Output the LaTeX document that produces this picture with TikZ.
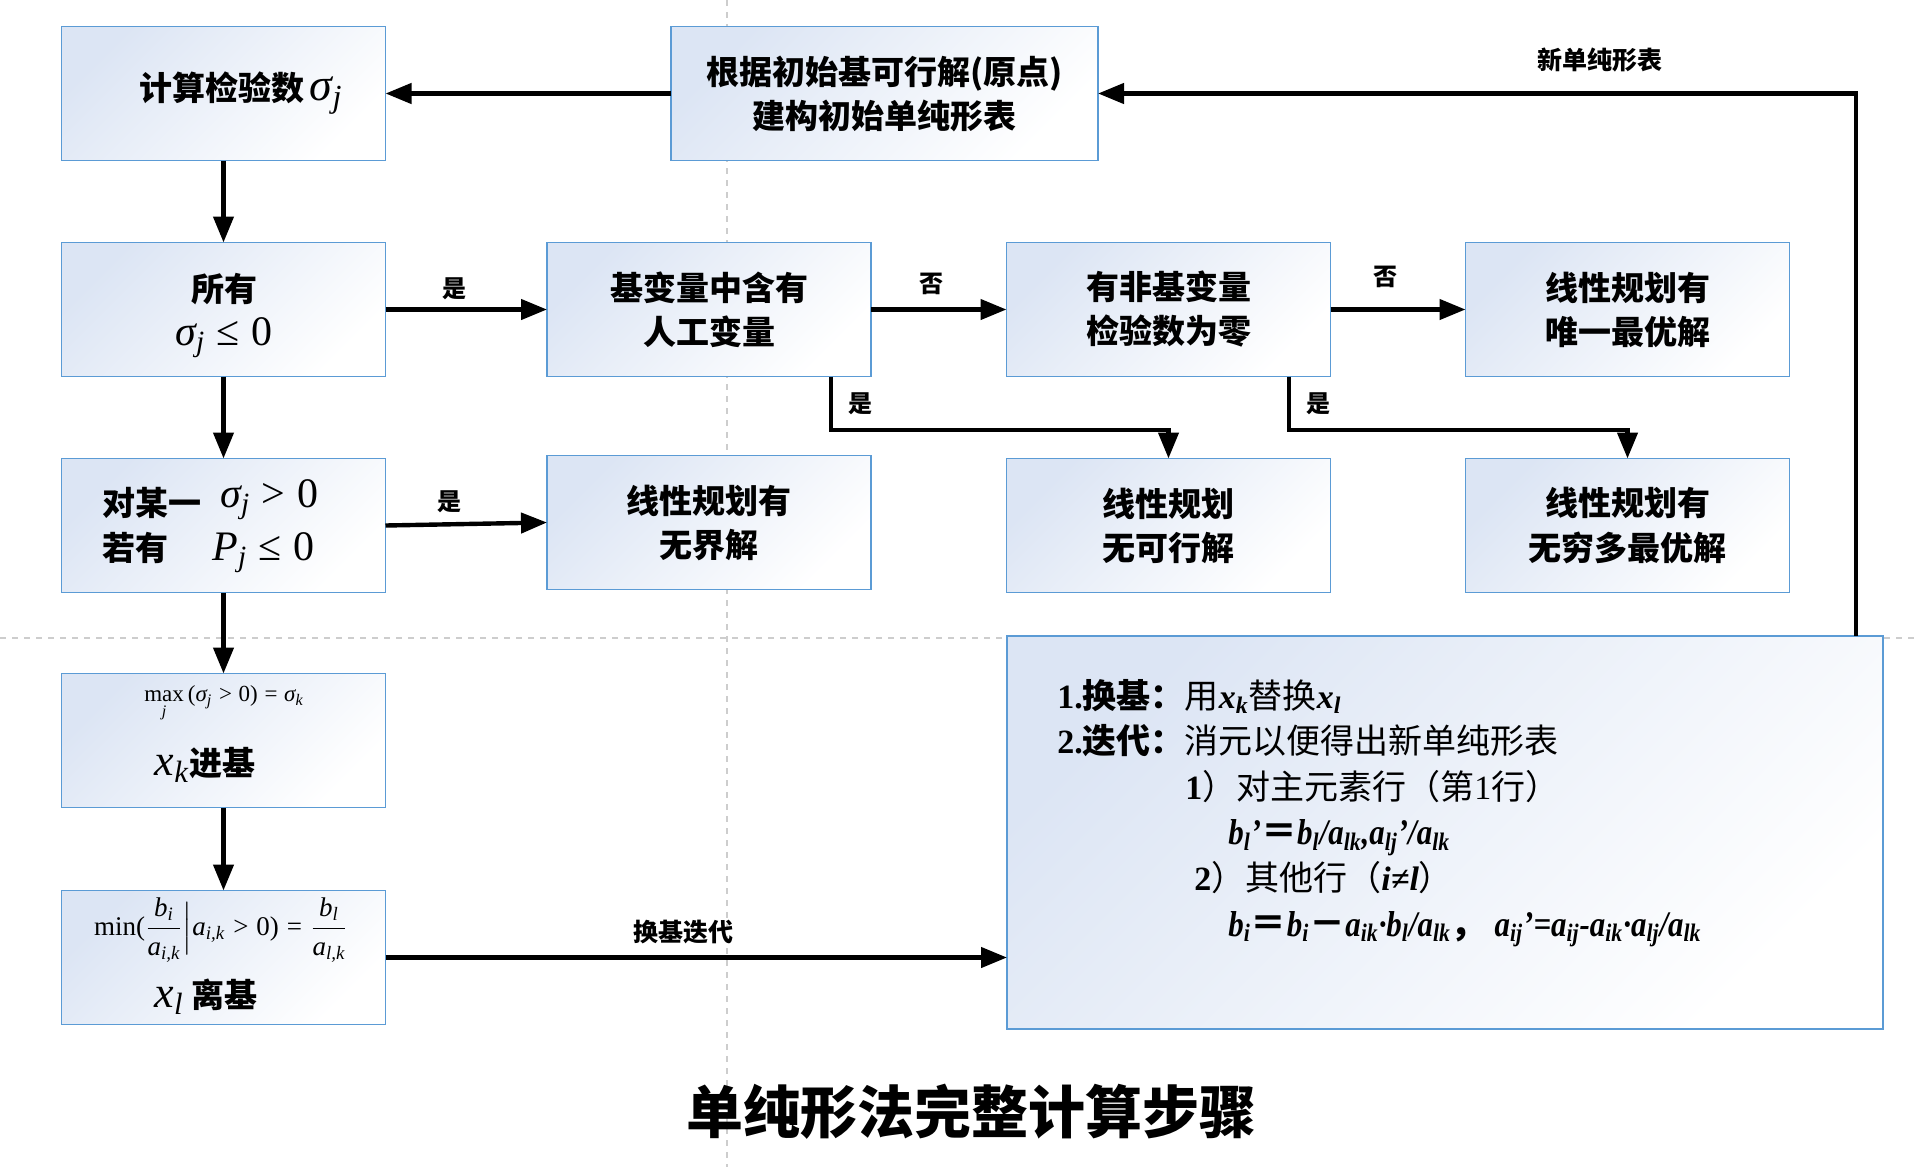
\documentclass[tikz,border=0pt]{standalone}
\usepackage{fontspec}
\usepackage{amsmath}
\setmainfont{Liberation Serif}
\newfontfamily\cjk{Noto Sans CJK SC}
\newfontfamily\cond{Liberation Serif}[FakeStretch=0.86]
\usetikzlibrary{arrows.meta}
\newcommand\ts[1]{\textsubscript{#1}}
\newcommand\mi[1]{\text{\normalfont\itshape #1}}
\newcommand\mr[1]{\text{\normalfont #1}}
\definecolor{boxedge}{RGB}{91,155,213}
\definecolor{boxtint}{RGB}{220,229,244}
\definecolor{guide}{RGB}{205,205,205}
\begin{document}
\begin{tikzpicture}[x=0.5pt,y=-0.5pt,
  box/.style={draw=boxedge, line width=0.8pt, top color=boxtint, bottom color=white, shading angle=45,
    inner sep=0pt, outer sep=0pt, minimum width=162pt, minimum height=67pt,
    font=\cjk\bfseries\fontsize{16.5}{22}\selectfont, align=center},
  txt/.style={inner sep=0pt, font=\cjk\bfseries\fontsize{16.5}{22}\selectfont},
  arr/.style={line width=2.2pt, -{Triangle[length=13pt,width=10pt]}},
  lbl/.style={inner sep=0pt, font=\cjk\bfseries\fontsize{12}{14}\selectfont}]
\fill[white] (0,0) rectangle (1920,1167);
\useasboundingbox (0,0) rectangle (1920,1167);
% guides
\draw[guide, dashed, line width=0.7pt] (727,0) -- (727,1167);
\draw[guide, dashed, line width=0.7pt] (0,638) -- (1920,638);
% boxes
\node[box] (b1) at (223.5,93.5) {};
\node[box, minimum width=213.5pt] (b2) at (884.5,93.5) {根据初始基可行解(原点)\\建构初始单纯形表};
\node[box] (b3) at (223.5,309.5) {};
\node[box] (b4) at (709,309.5) {基变量中含有\\人工变量};
\node[box] (b5) at (1168.5,309.5) {有非基变量\\检验数为零};
\node[box] (b6) at (1627.5,309.5) {线性规划有\\唯一最优解};
\node[box] (b7) at (223.5,525.5) {};
\node[box] (b8) at (709,522.5) {线性规划有\\无界解};
\node[box] (b9) at (1168.5,525.5) {线性规划\\无可行解};
\node[box] (b10) at (1627.5,525.5) {线性规划有\\无穷多最优解};
\node[box] (b11) at (223.5,740.5) {};
\node[box] (b12) at (223.5,957.5) {};
\node[box, minimum width=438pt, minimum height=196.5pt] (b13) at (1445,832.5) {};
% texts inside boxes
\node[txt, anchor=west] (t1) at (139,93) {计算检验数\,{\fontsize{23}{23}\selectfont$\mi{σ}_{\mi{j}}$}};
\node[txt] (t3a) at (224,289) {所有};
\node[txt, font=\fontsize{21}{22}\selectfont] (t3b) at (224,338) {$\mi{σ}_{\mi{j}}\mathrel{\mr{≤}}\mr{0}$};
\node[txt, anchor=west] (t7a) at (102,503) {对某一};
\node[txt, anchor=west] (t7b) at (102,548) {若有};
\node[txt, anchor=west, font=\fontsize{21}{22}\selectfont] (t7c) at (220,500) {$\mi{σ}_{\mi{j}}\mathrel{\mr{>}}\mr{0}$};
\node[txt, anchor=west, font=\fontsize{21}{22}\selectfont] (t7d) at (212,553) {$\mi{P}_{\mi{j}}\mathrel{\mr{≤}}\mr{0}$};
\node[inner sep=0pt, font=\fontsize{11.5}{12}\selectfont] (t11a) at (224,704)
  {$\mathop{\mr{max}}\limits_{\mi{j}}\mr{(}\mi{σ}_{\mi{j}}\mathrel{\mr{>}}\mr{0)}\mathrel{\mr{=}}\mi{σ}_{\mi{k}}$};
\node[txt] (t11b) at (205,765) {{\fontsize{22}{22}\selectfont$\mi{x}_{\mi{k}}$}进基};
\node[inner sep=0pt, font=\fontsize{13.5}{14}\selectfont] (t12a) at (221,930)
  {$\mr{min(}\dfrac{\mi{b}_{\mi{i}}}{\mi{a}_{\mi{i,k}}}\Big|\mi{a}_{\mi{i,k}}\mathrel{\mr{>}}\mr{0)}\mathrel{\mr{=}}\dfrac{\mi{b}_{\mi{l}}}{\mi{a}_{\mi{l,k}}}$};
\node[txt] (t12b) at (206,997) {{\fontsize{22}{22}\selectfont$\mi{x}_{\mi{l}}$} 离基};
\node[inner sep=0pt, anchor=west, align=left, font=\fontsize{17}{22.8}\selectfont] (t13) at (1057,813) {%
{\bfseries 1.}{\cjk\bfseries 换基：}{\cjk 用}{\bfseries\itshape x\ts{k}}{\cjk 替换}{\bfseries\itshape x\ts{l}}\\
{\bfseries 2.}{\cjk\bfseries 迭代：}{\cjk 消元以便得出新单纯形表}\\
\hspace*{64pt}{\bfseries 1}{\cjk ）对主元素行（第}1{\cjk 行）}\\
\hspace*{85.5pt}{\fontsize{18}{22.8}\selectfont\cond\bfseries\itshape b\ts{l}’{\cjk ＝}b\ts{l}/a\ts{lk},a\ts{lj}’/a\ts{lk}}\\
\hspace*{68.5pt}{\bfseries 2}{\cjk ）其他行（}{\bfseries\itshape i≠l}{\cjk ）}\\
\hspace*{85.5pt}{\fontsize{18}{22.8}\selectfont\cond\bfseries\itshape b\ts{i}{\cjk ＝}b\ts{i}{\cjk －}a\ts{ik}·b\ts{l}/a\ts{lk}{\cjk\upshape ，} a\ts{ij}’=a\ts{ij}-a\ts{ik}·a\ts{lj}/a\ts{lk}}};
% connectors
\coordinate (c1) at (831,430);
\coordinate (c2) at (1289,430);
\coordinate (c3) at (1856,93.5);
\draw[arr] (b2.west) -- (b1.east);
\draw[arr] (b1.south) -- (b3.north);
\draw[arr] (b3.east) -- (b4.west);
\draw[arr] (b4.east) -- (b5.west);
\draw[arr] (b5.east) -- (b6.west);
\draw[arr] (b4.south -| c1) -- (c1) -| (b9.north);
\draw[arr] (b5.south -| c2) -- (c2) -| (b10.north);
\draw[arr] (b3.south) -- (b7.north);
\draw[arr] (b7.east) -- (b8.west);
\draw[arr] (b7.south) -- (b11.north);
\draw[arr] (b11.south) -- (b12.north);
\draw[arr] (b12.east) -- (b13.west |- b12.east);
\draw[arr] (b13.north -| c3) -- (c3) -- (b2.east);
% labels
\node[lbl] (l1) at (454,289) {是};
\node[lbl] (l2) at (931,284) {否};
\node[lbl] (l3) at (1385,277) {否};
\node[lbl] (l4) at (860,404) {是};
\node[lbl] (l5) at (1318,404) {是};
\node[lbl] (l6) at (449,502) {是};
\node[lbl, font=\cjk\bfseries\fontsize{12.5}{14}\selectfont] (l7) at (683,932) {换基迭代};
\node[lbl, font=\cjk\bfseries\fontsize{12.5}{14}\selectfont] (l8) at (1600,60) {新单纯形表};
% title
\node[inner sep=0pt, font=\cjk\bfseries\fontsize{28.5}{30}\selectfont] (title) at (971,1112) {单纯形法完整计算步骤};
\end{tikzpicture}
\end{document}
